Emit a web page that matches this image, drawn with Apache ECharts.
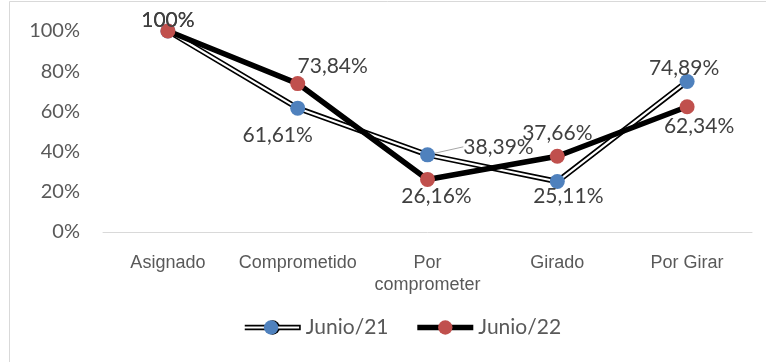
<!DOCTYPE html>
<html>
<head>
<meta charset="utf-8">
<script src="https://cdn.jsdelivr.net/npm/echarts@6/dist/echarts.min.js"></script>
<style>
  html, body { margin: 0; padding: 0; background: #fff; }
  #chart { width: 766px; height: 362px; }
</style>
</head>
<body>
<div id="chart"></div>
<script>
// Budget execution share by stage, June 2021 vs June 2022
const categories = ['Asignado', 'Comprometido', 'Por comprometer', 'Girado', 'Por Girar'];
const junio21 = [100, 61.61, 38.39, 25.11, 74.89];
const junio22 = [100, 73.84, 26.16, 37.66, 62.34];
const yTicks = { min: 0, max: 100, interval: 20 };

// Label nudges (px) from each marker centre
const offsets21 = [[0, -11], [-20, 27], [71, -8], [11, 15], [-3, -13]];
const offsets22 = [[0, -11], [35, -17], [9, 17], [0, -23], [12, 20]];

const fmtPct = v => (v === 100 ? '100%' : v.toFixed(2).replace('.', ',') + '%');

const labelFont = { fontFamily: 'Lato', fontSize: 21, color: '#404040' };

const chart = echarts.init(document.getElementById('chart'), null, { renderer: 'canvas' });

chart.setOption({
  animation: false,
  backgroundColor: '#fff',
  grid: { left: 103, right: 14, top: 31, bottom: 130, containLabel: false },
  xAxis: {
    type: 'category',
    data: categories,
    boundaryGap: true,
    axisLine: { lineStyle: { color: '#d9d9d9', width: 1 } },
    axisTick: { show: false },
    axisLabel: {
      fontFamily: 'Liberation Sans', fontSize: 18, color: '#595959',
      lineHeight: 22, margin: 20, interval: 0,
      formatter: v => v.replace('Por comprometer', 'Por\ncomprometer')
    }
  },
  yAxis: {
    type: 'value',
    min: yTicks.min, max: yTicks.max, interval: yTicks.interval,
    axisLine: { show: false },
    axisTick: { show: false },
    splitLine: { show: false },
    axisLabel: { fontFamily: 'Lato', fontSize: 20, color: '#595959', margin: 23, formatter: v => v + '%' }
  },
  legend: [
    {
      left: 237, top: 312, itemWidth: 56, itemHeight: 18, itemGap: 26,
      data: ['Junio/21', 'Junio/22'],
      lineStyle: { width: 'inherit' },
      textStyle: { fontFamily: 'Lato', fontSize: 21, color: '#595959' }
    },
    {
      left: 237, top: 312, itemWidth: 56, itemHeight: 18,
      data: ['Junio/21 '],
      selectedMode: false,
      lineStyle: { width: 'inherit' },
      textStyle: { fontFamily: 'Lato', fontSize: 21, color: 'rgba(0,0,0,0)' }
    }
  ],
  graphic: [
    { type: 'polyline', shape: { points: [[9.5, 362], [9.5, 1.5], [766, 1.5]] },
      style: { stroke: '#d9d9d9', lineWidth: 1, fill: null }, silent: true }
  ],
  series: [
    {
      // outer black stroke of the 2021 double line
      name: 'Junio/21', type: 'line', data: junio21,
      symbol: 'none', z: 2,
      lineStyle: { color: '#000', width: 5.5 },
      itemStyle: { color: '#000' }
    },
    {
      // white core of the 2021 double line, with markers and labels
      name: 'Junio/21 ', type: 'line', z: 3,
      data: junio21.map((v, i) => ({
        value: v,
        labelLine: { show: i === 2, lineStyle: { color: '#a6a6a6', width: 1 } }
      })),
      symbol: 'circle', symbolSize: 15,
      lineStyle: { color: '#fff', width: 2.2 },
      itemStyle: { color: '#4f81bd' },
      label: Object.assign({ show: true, position: 'inside', formatter: p => fmtPct(p.value) }, labelFont),
      labelLayout: p => ({ dx: offsets21[p.dataIndex][0], dy: offsets21[p.dataIndex][1] }),
      labelLine: { show: false }
    },
    {
      name: 'Junio/22', type: 'line', data: junio22, z: 4,
      symbol: 'circle', symbolSize: 15,
      lineStyle: { color: '#000', width: 5.5 },
      itemStyle: { color: '#c0504d' },
      label: Object.assign({ show: true, position: 'inside', formatter: p => fmtPct(p.value) }, labelFont),
      labelLayout: p => ({ dx: offsets22[p.dataIndex][0], dy: offsets22[p.dataIndex][1] })
    }
  ]
});
</script>
</body>
</html>
